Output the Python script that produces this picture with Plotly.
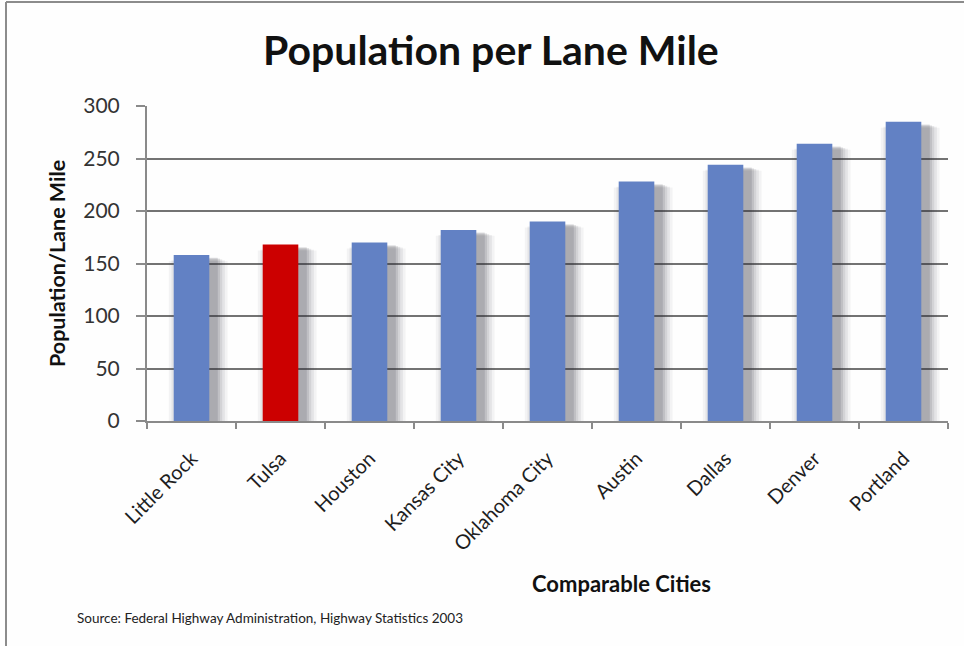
import plotly.graph_objects as go

cities = ["Little Rock", "Tulsa", "Houston", "Kansas City", "Oklahoma City",
          "Austin", "Dallas", "Denver", "Portland"]
values = [158, 168, 170, 182, 190, 228, 244, 264, 285]
bar_colors = ["#6281C4", "#CC0000", "#6281C4", "#6281C4", "#6281C4",
              "#6281C4", "#6281C4", "#6281C4", "#6281C4"]
y_ticks = [0, 50, 100, 150, 200, 250, 300]

FONT = "Lato, 'Open Sans', sans-serif"
BW = 0.40

fig = go.Figure()

# soft blurred shadow layers (offset to the right and slightly down)
for extra, alpha in [(0.26, 0.05), (0.20, 0.07), (0.14, 0.09), (0.09, 0.11), (0.04, 0.14)]:
    shadow_vals = [v - 2 - extra * 14 for v in values]
    fig.add_trace(go.Bar(
        x=cities, y=shadow_vals,
        width=BW + extra, offset=-BW / 2 - extra / 2 + 0.075,
        marker=dict(color=f"rgba(45,45,55,{alpha})", line=dict(width=0)),
        hoverinfo="skip", showlegend=False,
    ))

fig.add_trace(go.Bar(
    x=cities, y=values, width=BW, offset=-BW / 2,
    marker=dict(color=bar_colors, line=dict(width=0)),
    showlegend=False,
))

fig.update_layout(
    width=964, height=646,
    margin=dict(l=147, r=16, t=106, b=225),
    paper_bgcolor="#FEFEFE", plot_bgcolor="#FEFEFE",
    barmode="overlay",
    font=dict(family=FONT, color="#222222"),
    xaxis=dict(
        type="category", tickangle=-45, tickfont=dict(size=20, color="#1E1E1E"),
        showline=True, linecolor="#8A8A8A", linewidth=2,
        ticks="outside", tickson="boundaries", ticklen=6, tickcolor="#8A8A8A", tickwidth=1.5,
        ticklabelstandoff=16,
        showgrid=False, range=[-0.5, 8.5],
    ),
    yaxis=dict(
        range=[0, 300], tickvals=y_ticks, tickfont=dict(size=21, color="#333333"),
        showline=True, linecolor="#8A8A8A", linewidth=2,
        ticks="outside", ticklen=9, tickcolor="#8A8A8A", tickwidth=1.5,
        ticklabelstandoff=12,
        showgrid=True, gridcolor="#737373", gridwidth=2.3, zeroline=False,
    ),
)

annotations = [
    dict(text="<b>Population per Lane Mile</b>", x=491, y=50, font=dict(size=41, color="#111111")),
    dict(text="<b>Population/Lane Mile</b>", x=57, y=264, textangle=-90, font=dict(size=21.5, color="#111111")),
    dict(text="<b>Comparable Cities</b>", x=621, y=583, font=dict(size=22, color="#111111")),
]
for a in annotations:
    px, py = a.pop("x"), a.pop("y")
    fig.add_annotation(
        xref="paper", yref="paper",
        x=(px - 147) / 801, y=(421 - py) / 315,
        xanchor="center", yanchor="middle", showarrow=False, **a,
    )
fig.add_annotation(
    xref="paper", yref="paper", x=(75 - 147) / 801, y=(421 - 618) / 315,
    xanchor="left", yanchor="middle", showarrow=False,
    text="Source: Federal Highway Administration, Highway Statistics 2003",
    font=dict(size=13.5, color="#222222"),
)

# outer frame lines (top and left)
fig.add_shape(type="line", xref="paper", yref="paper",
              x0=(6 - 147) / 801, x1=(964 - 147) / 801, y0=(421 - 2) / 315, y1=(421 - 2) / 315,
              line=dict(color="#8C8C8C", width=2))
fig.add_shape(type="line", xref="paper", yref="paper",
              x0=(6 - 147) / 801, x1=(6 - 147) / 801, y0=(421 - 2) / 315, y1=(421 - 646) / 315,
              line=dict(color="#8C8C8C", width=2))

fig.write_html("out.html")
